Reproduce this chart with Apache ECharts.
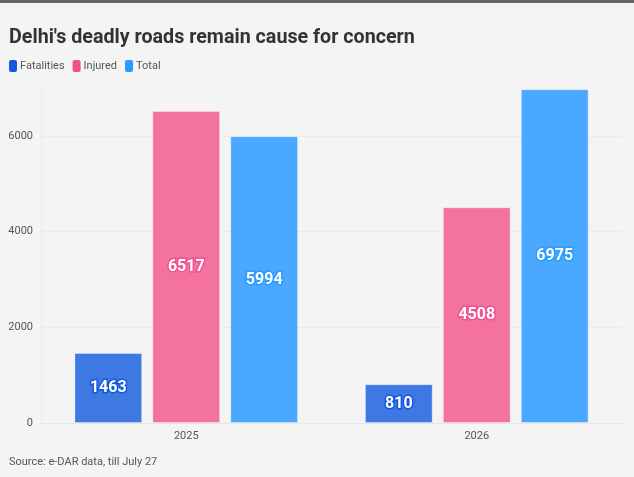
<!DOCTYPE html>
<html>
<head>
<meta charset="utf-8">
<script src="https://cdn.jsdelivr.net/npm/echarts@6/dist/echarts.min.js"></script>
<style>
  html, body { margin: 0; padding: 0; background: #f4f4f4; }
  #chart { width: 634px; height: 477px; }
</style>
</head>
<body>
<div id="chart"></div>
<script>
var years = ['2025', '2026'];
var fatalities = [1463, 810];
var injured = [6517, 4508];
var total = [5994, 6975];
var seriesNames = ['Fatalities', 'Injured', 'Total'];
var legendColors = ['#1558e0', '#f2508c', '#2a9bff'];
var barColors = ['#3e78e2', '#f472a0', '#4aa8ff'];

var chart = echarts.init(document.getElementById('chart'));

function makeSeries(name, values, i) {
    return {
        name: name,
        type: 'bar',
        data: values,
        barGap: '15%',
        barCategoryGap: '23%',
        itemStyle: {
            color: barColors[i],
            borderColor: 'rgba(255,255,255,0.35)',
            borderWidth: 1
        },
        label: {
            show: true,
            position: 'inside',
            color: '#fff',
            fontFamily: 'Roboto',
            fontWeight: 'bold',
            fontSize: 16,
            textBorderColor: legendColors[i],
            textBorderWidth: 3
        }
    };
}

var option = {
    backgroundColor: '#f4f4f4',
    animation: false,
    title: {
        text: "Delhi's deadly roads remain cause for concern",
        left: 4,
        top: 23,
        textStyle: {
            fontFamily: 'Roboto',
            fontWeight: 'bold',
            fontSize: 19.7,
            color: '#333'
        }
    },
    legend: {
        left: 4,
        top: 55,
        icon: 'roundRect',
        itemWidth: 8,
        itemHeight: 12,
        itemGap: 8,
        textStyle: { color: '#555', fontSize: 11, fontFamily: 'Roboto', padding: [0, 0, 0, -2] },
        data: seriesNames.map(function (n, i) {
            return { name: n, itemStyle: { color: legendColors[i], borderWidth: 0 } };
        })
    },
    grid: {
        left: 41,
        right: 12,
        top: 88,
        bottom: 54
    },
    xAxis: {
        type: 'category',
        data: years,
        axisLine: { lineStyle: { color: '#e6e6e6' } },
        axisTick: { alignWithLabel: true, length: 5, lineStyle: { color: '#e6e6e6' } },
        axisLabel: { color: '#555', fontSize: 11, fontFamily: 'Roboto', margin: 8 }
    },
    yAxis: {
        type: 'value',
        min: 0,
        max: 7000,
        interval: 2000,
        axisLine: { show: true, lineStyle: { color: '#ebebeb' } },
        splitLine: { showMaxLine: false, lineStyle: { color: '#ebebeb' } },
        axisLabel: {
            color: '#555',
            fontSize: 11,
            fontFamily: 'Roboto',
            margin: 8,
            showMaxLabel: false,
            formatter: function (v) { return String(v); }
        }
    },
    graphic: [{
        type: 'rect',
        shape: { x: 0, y: 0, width: 634, height: 3 },
        style: { fill: '#666' }
    }, {
        type: 'text',
        left: 9,
        top: 457,
        style: {
            text: 'Source: e-DAR data, till July 27',
            fill: '#555',
            fontSize: 11,
            fontFamily: 'Roboto'
        }
    }],
    series: [
        makeSeries(seriesNames[0], fatalities, 0),
        makeSeries(seriesNames[1], injured, 1),
        makeSeries(seriesNames[2], total, 2)
    ]
};

chart.setOption(option);

window.onresize = chart.resize;
</script>
</body>
</html>
